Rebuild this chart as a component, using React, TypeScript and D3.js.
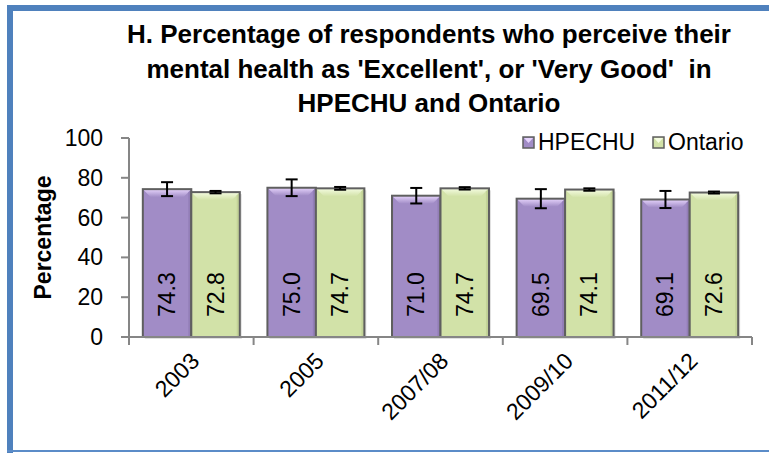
import * as d3 from "d3";
import React from "react";

const categories = ["2003", "2005", "2007/08", "2009/10", "2011/12"];
const seriesNames = ["HPECHU", "Ontario"];
const hpechu = [74.3, 75.0, 71.0, 69.5, 69.1];
const ontario = [72.8, 74.7, 74.7, 74.1, 72.6];
const hpechuErr = [3.5, 4.2, 3.9, 4.8, 4.3];
const ontarioErr = [0.6, 0.7, 0.6, 0.6, 0.5];
const yTicks = [0, 20, 40, 60, 80, 100];
const titleLines = [
  "H. Percentage of respondents who perceive their",
  "mental health as 'Excellent', or 'Very Good'  in",
  "HPECHU and Ontario",
];

const W = 769;
const H = 453;
const FONT = "'Liberation Sans', Arial, sans-serif";
const FS = 23;

const colors: Record<string, { base: string; light: string; dark: string }> = {
  HPECHU: { base: "#a18cc6", light: "#e6d4fc", dark: "#8a74ae" },
  Ontario: { base: "#d2e2a8", light: "#f5fce2", dark: "#b9ca8e" },
};

const x0 = d3.scaleBand<string>().domain(categories).range([129, 752]);
const x1 = d3
  .scaleBand<string>()
  .domain(seriesNames)
  .range([0, x0.bandwidth()])
  .paddingOuter(0.285);
const y = d3.scaleLinear().domain([0, 100]).range([337, 138]);

const Bar = ({ x, w, v, err, name }) => {
  const c = colors[name];
  const top = y(v);
  const bot = y(0);
  const b = 8;
  return (
    <g>
      <rect x={x + 2} y={top + 2} width={w} height={bot - top} fill="#000" opacity={0.12} />
      <rect x={x} y={top} width={w} height={bot - top} fill={c.base} />
      <polygon
        points={`${x},${top} ${x + w},${top} ${x + w - b},${top + b} ${x + b},${top + b}`}
        fill={`url(#top-${name})`}
      />
      <polygon
        points={`${x + w},${top} ${x + w},${bot} ${x + w - 3},${bot} ${x + w - 3},${top + 3}`}
        fill={c.dark}
        opacity={0.6}
      />
      <rect x={x} y={top} width={w} height={bot - top} fill="none" stroke="#5f5f5f" strokeWidth={2} />
      <g stroke="#000" strokeWidth={2}>
        <line x1={x + w / 2} x2={x + w / 2} y1={y(v + err)} y2={y(v - err)} />
        <line x1={x + w / 2 - 6} x2={x + w / 2 + 6} y1={y(v + err)} y2={y(v + err)} />
        <line x1={x + w / 2 - 6} x2={x + w / 2 + 6} y1={y(v - err)} y2={y(v - err)} />
      </g>
      <text
        transform={`translate(${x + w / 2 + 8},${bot - 20}) rotate(-90)`}
        fontSize={FS}
        fontFamily={FONT}
        fill="#000"
      >
        {v.toFixed(1)}
      </text>
    </g>
  );
};

export default function App() {
  const values = { HPECHU: hpechu, Ontario: ontario };
  const errs = { HPECHU: hpechuErr, Ontario: ontarioErr };
  return (
    <svg
      width={W}
      height={H}
      style={{ position: "absolute", left: 0, top: 0, background: "#fff" }}
      fontFamily={FONT}
    >
      <defs>
        {seriesNames.map((n) => (
          <linearGradient key={n} id={`top-${n}`} x1="0" y1="0" x2="0" y2="1">
            <stop offset="0" stopColor={colors[n].light} />
            <stop offset="1" stopColor={colors[n].base} />
          </linearGradient>
        ))}
      </defs>

      {/* frame */}
      <rect x={7} y={5} width={W} height={6} fill="#4f81bd" />
      <rect x={7} y={5} width={6} height={H} fill="#4f81bd" />
      <rect x={7} y={450} width={W} height={2} fill="#5b8cc8" />

      {/* title */}
      {titleLines.map((t, i) => (
        <text
          key={i}
          x={429}
          y={43 + i * 34.5}
          textAnchor="middle"
          fontSize={26}
          fontWeight="bold"
          fill="#000"
          xmlSpace="preserve"
        >
          {t}
        </text>
      ))}

      {/* y axis */}
      <line x1={129} x2={129} y1={y(100)} y2={y(0)} stroke="#868686" strokeWidth={2} />
      {yTicks.map((t) => (
        <g key={t}>
          <line x1={121} x2={129} y1={y(t)} y2={y(t)} stroke="#868686" strokeWidth={2} />
          <text x={103} y={y(t)} dy="0.35em" textAnchor="end" fontSize={FS} fill="#000">
            {t}
          </text>
        </g>
      ))}
      <text
        transform={`translate(51,${(y(0) + y(100)) / 2}) rotate(-90)`}
        textAnchor="middle"
        fontSize={FS}
        fontWeight="bold"
        fill="#000"
      >
        Percentage
      </text>

      {/* bars */}
      {categories.map((c, i) => (
        <g key={c}>
          {seriesNames.map((n) => (
            <Bar
              key={n}
              name={n}
              x={x0(c)! + x1(n)!}
              w={x1.bandwidth()}
              v={values[n][i]}
              err={errs[n][i]}
            />
          ))}
        </g>
      ))}

      {/* x axis */}
      <line x1={x0.range()[0]} x2={x0.range()[1]} y1={y(0)} y2={y(0)} stroke="#868686" strokeWidth={2} />
      {[...categories.map((c) => x0(c)!), x0.range()[1]].map((xv, i) => (
        <line key={i} x1={xv} x2={xv} y1={y(0)} y2={y(0) + 8} stroke="#868686" strokeWidth={2} />
      ))}
      {categories.map((c) => (
        <text
          key={c}
          transform={`translate(${x0(c)! + x0.bandwidth() / 2 - 2},${y(0) + 14}) rotate(-45)`}
          textAnchor="end"
          dy="0.7em"
          fontSize={FS}
          fill="#000"
        >
          {c}
        </text>
      ))}

      {/* legend */}
      {seriesNames.map((n, i) => {
        const lx = i === 0 ? 523 : 653;
        return (
          <g key={n}>
            <rect x={lx} y={137} width={11} height={11} fill={colors[n].base} stroke="#5f5f5f" strokeWidth={1.5} />
            <polygon
              points={`${lx + 1},${138} ${lx + 10},${138} ${lx + 5.5},${143}`}
              fill={colors[n].light}
            />
            <text x={lx + 15} y={150} fontSize={FS} fill="#000">
              {n}
            </text>
          </g>
        );
      })}
    </svg>
  );
}
